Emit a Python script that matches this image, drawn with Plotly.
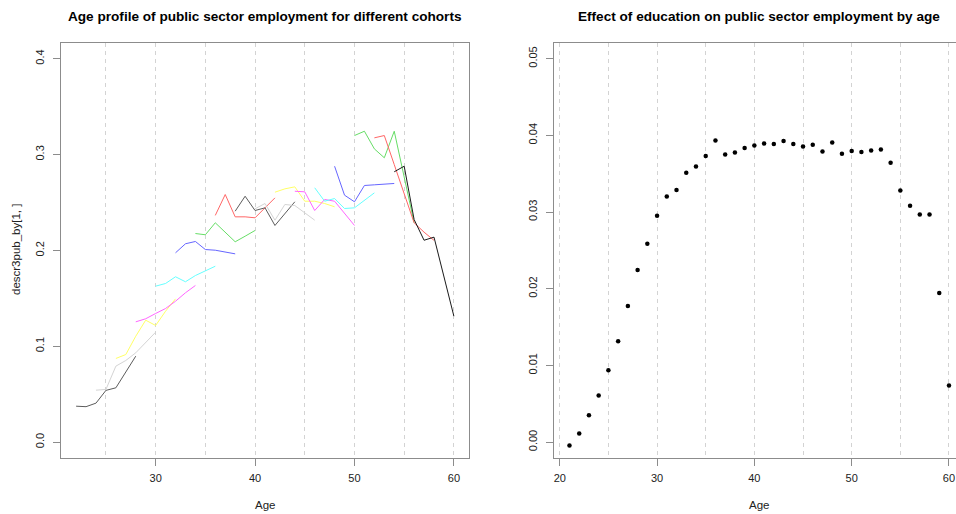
import plotly.graph_objects as go

# ---------------- data ----------------
# Left panel: cohorts, each observed for 7 consecutive ages
cohort_start_ages = [22, 24, 26, 28, 30, 32, 34, 36, 38, 40, 42, 44, 46, 48, 50, 52, 54]
cohort_values = [
    [0.0375, 0.0370, 0.0407, 0.0540, 0.0567, 0.0734, 0.0897],
    [0.0542, 0.0550, 0.0793, 0.0852, 0.0932, 0.1036, 0.1147],
    [0.0873, 0.0914, 0.1105, 0.1272, 0.1217, 0.1366, 0.1495],
    [0.1255, 0.1287, 0.1342, 0.1394, 0.1470, 0.1558, 0.1634],
    [0.1627, 0.1655, 0.1725, 0.1673, 0.1738, 0.1783, 0.1835],
    [0.1975, 0.2069, 0.2093, 0.2009, 0.2002, 0.1985, 0.1964],
    [0.2176, 0.2163, 0.2288, 0.2190, 0.2090, 0.2148, 0.2208],
    [0.2365, 0.2583, 0.2350, 0.2350, 0.2340, 0.2444, 0.2548],
    [0.2409, 0.2565, 0.2416, 0.2444, 0.2260, 0.2385, 0.2507],
    [0.2434, 0.2489, 0.2315, 0.2479, 0.2468, 0.2392, 0.2315],
    [0.2607, 0.2642, 0.2663, 0.2513, 0.2513, 0.2489, 0.2455],
    [0.2617, 0.2611, 0.2416, 0.2531, 0.2513, 0.2392, 0.2260],
    [0.2653, 0.2513, 0.2541, 0.2437, 0.2444, 0.2520, 0.2600],
    [0.2878, 0.2576, 0.2507, 0.2677, 0.2684, 0.2690, 0.2698],
    [0.3198, 0.3243, 0.3059, 0.2966, 0.3243, 0.2766, 0.2288],
    [0.3174, 0.3198, 0.2895, 0.2592, 0.2288, 0.2190, 0.2105],
    [0.2820, 0.2878, 0.2322, 0.2106, 0.2138, 0.1726, 0.1314],
]
cohort_colors = [
    "#5c5c5c", "#d4d4d4", "#ffff66", "#ff66ff", "#66ffff", "#6666ff", "#66dd66", "#ff6666",
    "#5c5c5c", "#d4d4d4", "#ffff66", "#ff66ff", "#66ffff", "#6666ff", "#66dd66", "#ff6666",
    "#1a1a1a",
]

# Right panel: effect of education by age
edu_ages = list(range(21, 61))
edu_effect = [
    -0.00044, 0.00112, 0.00352, 0.00608, 0.00939, 0.01317, 0.01774, 0.02243, 0.02586, 0.02952,
    0.03203, 0.03287, 0.03512, 0.03595, 0.03730, 0.03934, 0.03751, 0.03777, 0.03834, 0.03868,
    0.03895, 0.03887, 0.03926, 0.03887, 0.03856, 0.03878, 0.03790, 0.03908, 0.03760, 0.03795,
    0.03782, 0.03803, 0.03816, 0.03643, 0.03282, 0.03082, 0.02969, 0.02969, 0.01943, 0.00738,
]

left_title = "Age profile of public sector employment for different cohorts"
right_title = "Effect of education on public sector employment by age"
left_ylabel = "descr3pub_by[1, ]"
xlabel = "Age"

# ---------------- figure ----------------
W, H = 956, 514
fig = go.Figure()

for start, vals, col in zip(cohort_start_ages, cohort_values, cohort_colors):
    fig.add_trace(go.Scatter(
        x=list(range(start, start + len(vals))), y=vals, mode="lines",
        line=dict(color=col, width=1), xaxis="x", yaxis="y", hoverinfo="skip",
    ))

fig.add_trace(go.Scatter(
    x=edu_ages, y=edu_effect, mode="markers",
    marker=dict(color="black", size=4.5), xaxis="x2", yaxis="y2",
))

box_col = "#8c8c8c"
grid_col = "#d3d3d3"
font_fam = "Liberation Sans, Arial, sans-serif"
tickfont = dict(family=font_fam, size=11, color="#222")


def px_x(p):
    return p / W


def px_y(p):
    return (H - p) / H


ydom = [px_y(457.5), px_y(43.3)]

common_x = dict(
    showline=True, linecolor=box_col, linewidth=1, mirror=True,
    ticks="outside", ticklen=7, tickcolor=box_col, tickwidth=1,
    tick0=0, dtick=10, showgrid=True, gridcolor=grid_col, griddash="4px,4px", gridwidth=1,
    minor=dict(tick0=0, dtick=5, showgrid=True, gridcolor=grid_col, griddash="4px,4px",
               gridwidth=1, ticks=""),
    zeroline=False, tickfont=tickfont, ticklabelstandoff=3, fixedrange=True,
    ticklabeloverflow="allow",
)
common_y = dict(
    showline=True, linecolor=box_col, linewidth=1,
    ticks="outside", ticklen=7, tickcolor=box_col, tickwidth=1,
    showgrid=False, zeroline=False, tickfont=tickfont, tickangle=-90,
    ticklabelstandoff=5, fixedrange=True,
)

fig.update_layout(
    width=W, height=H,
    margin=dict(l=0, r=0, t=0, b=0),
    paper_bgcolor="white", plot_bgcolor="white",
    showlegend=False,
    xaxis=dict(common_x, domain=[px_x(61), px_x(469)], range=[20.48, 61.52], anchor="y"),
    yaxis=dict(common_y, domain=ydom, range=[-0.016, 0.416], tick0=0, dtick=0.1,
               tickformat=".1f", mirror=True, anchor="x"),
    xaxis2=dict(common_x, domain=[px_x(554.3), 1.0], range=[19.44, 60.72], anchor="y2"),
    yaxis2=dict(common_y, domain=ydom, range=[-0.002, 0.052], tick0=0, dtick=0.01,
                tickformat=".2f", mirror=False, anchor="x2"),
)

ann_font = dict(family=font_fam, size=11.5, color="#222")
title_font = dict(family=font_fam, size=13.6, color="black")
fig.add_annotation(text="<b>" + left_title + "</b>", x=px_x(265), y=px_y(17),
                   xref="paper", yref="paper", showarrow=False, font=title_font,
                   xanchor="center", yanchor="middle")
fig.add_annotation(text="<b>" + right_title + "</b>", x=px_x(759), y=px_y(17),
                   xref="paper", yref="paper", showarrow=False, font=title_font,
                   xanchor="center", yanchor="middle")
fig.add_annotation(text=xlabel, x=px_x(265), y=px_y(505), xref="paper", yref="paper",
                   showarrow=False, font=ann_font, xanchor="center", yanchor="middle")
fig.add_annotation(text=xlabel, x=px_x(759), y=px_y(505), xref="paper", yref="paper",
                   showarrow=False, font=ann_font, xanchor="center", yanchor="middle")
fig.add_annotation(text=left_ylabel, x=px_x(16), y=px_y(250), xref="paper", yref="paper",
                   showarrow=False, font=ann_font, textangle=-90,
                   xanchor="center", yanchor="middle")

# remove the default page margin so the 956x514 figure fills the window exactly
fig.write_html(
    "out.html",
    config={"displayModeBar": False},
    post_script="document.body.style.margin='0';document.body.style.overflow='hidden';",
)
